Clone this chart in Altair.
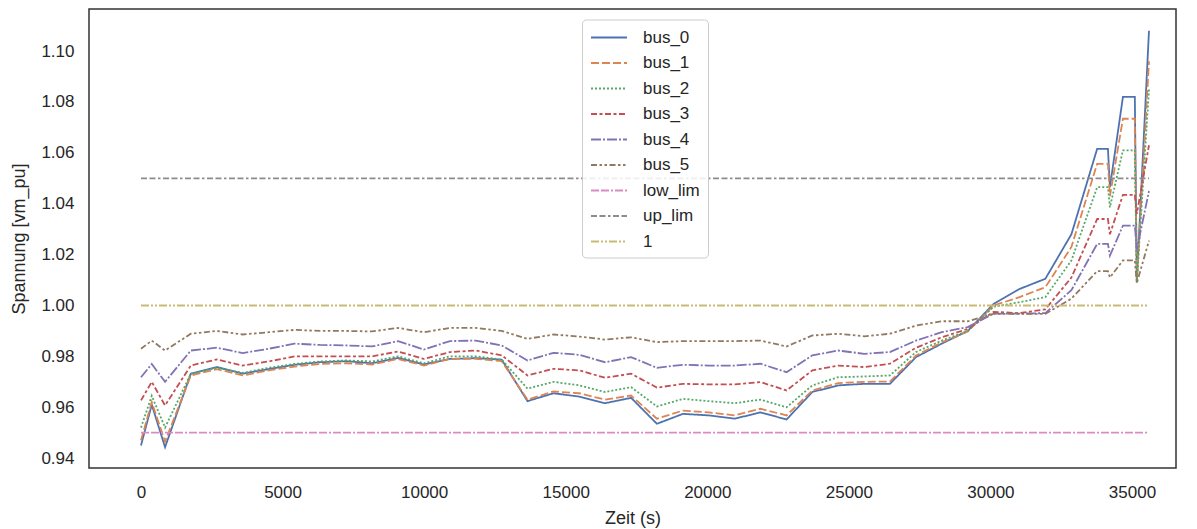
import altair as alt
import pandas as pd

# time stamps in seconds
times = [0, 380, 850, 1760, 2680, 3590, 4510, 5420, 6330, 7250, 8160, 9080,
         9990, 10910, 11820, 12740, 13650, 14570, 15480, 16390, 17310, 18220,
         19140, 20050, 20970, 21880, 22800, 23710, 24620, 25540, 26450, 27370,
         28280, 29200, 30110, 31030, 31940, 32860, 33770, 34150, 34220, 34680,
         35100, 35170, 35600]

bus_0 = [0.945, 0.961, 0.9443, 0.9732, 0.9758, 0.9732, 0.975, 0.9767, 0.9777, 0.9781,
         0.9773, 0.9794, 0.9768, 0.979, 0.9793, 0.9787, 0.9624, 0.9655, 0.9642, 0.9616,
         0.9637, 0.9535, 0.9574, 0.9568, 0.9555, 0.958, 0.9552, 0.966, 0.9686, 0.9692,
         0.9692, 0.9797, 0.985, 0.990, 1.0006, 1.0065, 1.0105, 1.028, 1.0616, 1.0616,
         1.0465, 1.082, 1.082, 1.010, 1.108]
bus_1 = [0.947, 0.962, 0.9465, 0.9725, 0.975, 0.9725, 0.9745, 0.976, 0.977, 0.9773,
         0.9768, 0.979, 0.9764, 0.979, 0.979, 0.9781, 0.963, 0.9662, 0.9655, 0.963,
         0.9646, 0.9555, 0.9587, 0.958, 0.9568, 0.9594, 0.9568, 0.9666, 0.9695, 0.970,
         0.9701, 0.9803, 0.9855, 0.9898, 1.0, 1.0033, 1.0072, 1.023, 1.0557, 1.0557,
         1.043, 1.0734, 1.0734, 1.009, 1.096]
bus_2 = [0.952, 0.9645, 0.952, 0.9732, 0.9755, 0.9735, 0.9755, 0.977, 0.978, 0.9784,
         0.978, 0.980, 0.9773, 0.980, 0.980, 0.9787, 0.9673, 0.970, 0.9686, 0.966,
         0.9679, 0.9603, 0.9633, 0.9624, 0.9616, 0.963, 0.960, 0.9686, 0.9718, 0.9721,
         0.9725, 0.9817, 0.9862, 0.990, 0.9995, 1.0013, 1.0033, 1.0177, 1.0465, 1.0465,
         1.0386, 1.061, 1.061, 1.009, 1.085]
bus_3 = [0.9627, 0.970, 0.9607, 0.9764, 0.9788, 0.9764, 0.978, 0.980, 0.980, 0.980,
         0.980, 0.9819, 0.979, 0.9817, 0.9823, 0.9804, 0.9725, 0.9751, 0.9745, 0.9716,
         0.9732, 0.9677, 0.9692, 0.969, 0.969, 0.9699, 0.9666, 0.9745, 0.9764, 0.9758,
         0.9771, 0.9834, 0.9875, 0.9908, 0.9975, 0.997, 0.9985, 1.011, 1.034, 1.034,
         1.028, 1.0435, 1.0435, 1.036, 1.063]
bus_4 = [0.9718, 0.977, 0.970, 0.9823, 0.9834, 0.9813, 0.983, 0.985, 0.9845, 0.9843,
         0.9839, 0.986, 0.9827, 0.986, 0.9862, 0.9843, 0.9784, 0.9814, 0.9806, 0.9777,
         0.9797, 0.9755, 0.9767, 0.9764, 0.9764, 0.9771, 0.9738, 0.9804, 0.9823, 0.981,
         0.9817, 0.9862, 0.9895, 0.9915, 0.9968, 0.9968, 0.997, 1.006, 1.0242, 1.0242,
         1.0196, 1.0314, 1.0314, 1.022, 1.045]
bus_5 = [0.983, 0.9862, 0.9823, 0.9889, 0.990, 0.9886, 0.9895, 0.9904, 0.990, 0.990,
         0.9898, 0.9912, 0.9895, 0.9912, 0.9912, 0.990, 0.9869, 0.9886, 0.9878, 0.9866,
         0.9875, 0.9856, 0.986, 0.986, 0.986, 0.9862, 0.9839, 0.9882, 0.9889, 0.9879,
         0.9889, 0.9921, 0.9938, 0.9938, 0.9967, 0.9967, 0.9967, 1.0027, 1.0135, 1.0135,
         1.011, 1.0177, 1.0177, 1.0088, 1.0255]
low_lim = 0.95
up_lim = 1.05
one = 1.0

series_names = ["bus_0", "bus_1", "bus_2", "bus_3", "bus_4", "bus_5", "low_lim", "up_lim", "1"]
x_ticks = [0, 5000, 10000, 15000, 20000, 25000, 30000, 35000]
y_ticks = [0.94, 0.96, 0.98, 1.00, 1.02, 1.04, 1.06, 1.08, 1.10]

colors = ["#4C72B0", "#DD8452", "#55A868", "#C44E52", "#8172B3", "#937860",
          "#DA8BC3", "#8C8C8C", "#CCB974"]
dashes = [[1, 0], [8, 3], [2, 2], [6, 2.5, 3, 2.5], [10, 2, 2, 2],
          [6, 2.5, 2.5, 2.5, 2.5, 2.5], [8, 2, 8, 2, 2, 2],
          [6, 2.5, 6, 2.5, 2.5, 2.5], [8, 2, 2, 2, 2, 2]]

series_values = [bus_0, bus_1, bus_2, bus_3, bus_4, bus_5,
                 [low_lim] * len(times), [up_lim] * len(times), [one] * len(times)]

rows = []
for name, vals in zip(series_names, series_values):
    for t, v in zip(times, vals):
        rows.append({"Zeit": t, "Spannung": v, "series": name})
df = pd.DataFrame(rows)

FONT = "Liberation Sans"
TXT = "#262626"

leg = alt.Legend(
    orient="none", legendX=493, legendY=10.5,
    padding=8, rowPadding=7.5,
    labelFont=FONT, labelFontSize=17, labelColor=TXT, labelOffset=33,
    symbolType="M-1,0H3", symbolSize=324, symbolStrokeWidth=1.8,
    strokeColor="#cccccc", fillColor="rgba(255,255,255,0.85)", cornerRadius=4,
)

chart = alt.Chart(df).mark_line(strokeWidth=1.8, clip=True).encode(
    x=alt.X("Zeit:Q", title="Zeit (s)",
            scale=alt.Scale(domain=[-1836.5, 36554], nice=False, zero=False),
            axis=alt.Axis(values=x_ticks, format="d", labelPadding=16, titlePadding=9)),
    y=alt.Y("Spannung:Q", title="Spannung [vm_pu]",
            scale=alt.Scale(domain=[0.93612, 1.11655], nice=False, zero=False),
            axis=alt.Axis(values=y_ticks, format=".2f", labelPadding=15, titlePadding=12)),
    color=alt.Color("series:N", title=None,
                    scale=alt.Scale(domain=series_names, range=colors), legend=leg),
    strokeDash=alt.StrokeDash("series:N", title=None,
                              scale=alt.Scale(domain=series_names, range=dashes), legend=leg),
).properties(
    width=1087, height=459,
    padding={"left": 81, "top": 1, "right": 10, "bottom": 60},
    autosize=alt.AutoSizeParams(type="none"),
    background="white",
).configure_axis(
    domain=False, ticks=False, grid=False,
    labelFont=FONT, labelFontSize=17, labelColor=TXT,
    titleFont=FONT, titleFontSize=18, titleFontWeight="normal", titleColor=TXT,
).configure_view(
    stroke="#333333", strokeWidth=1.5,
)

chart.save("out.html", embed_options={"renderer": "svg", "actions": False})
